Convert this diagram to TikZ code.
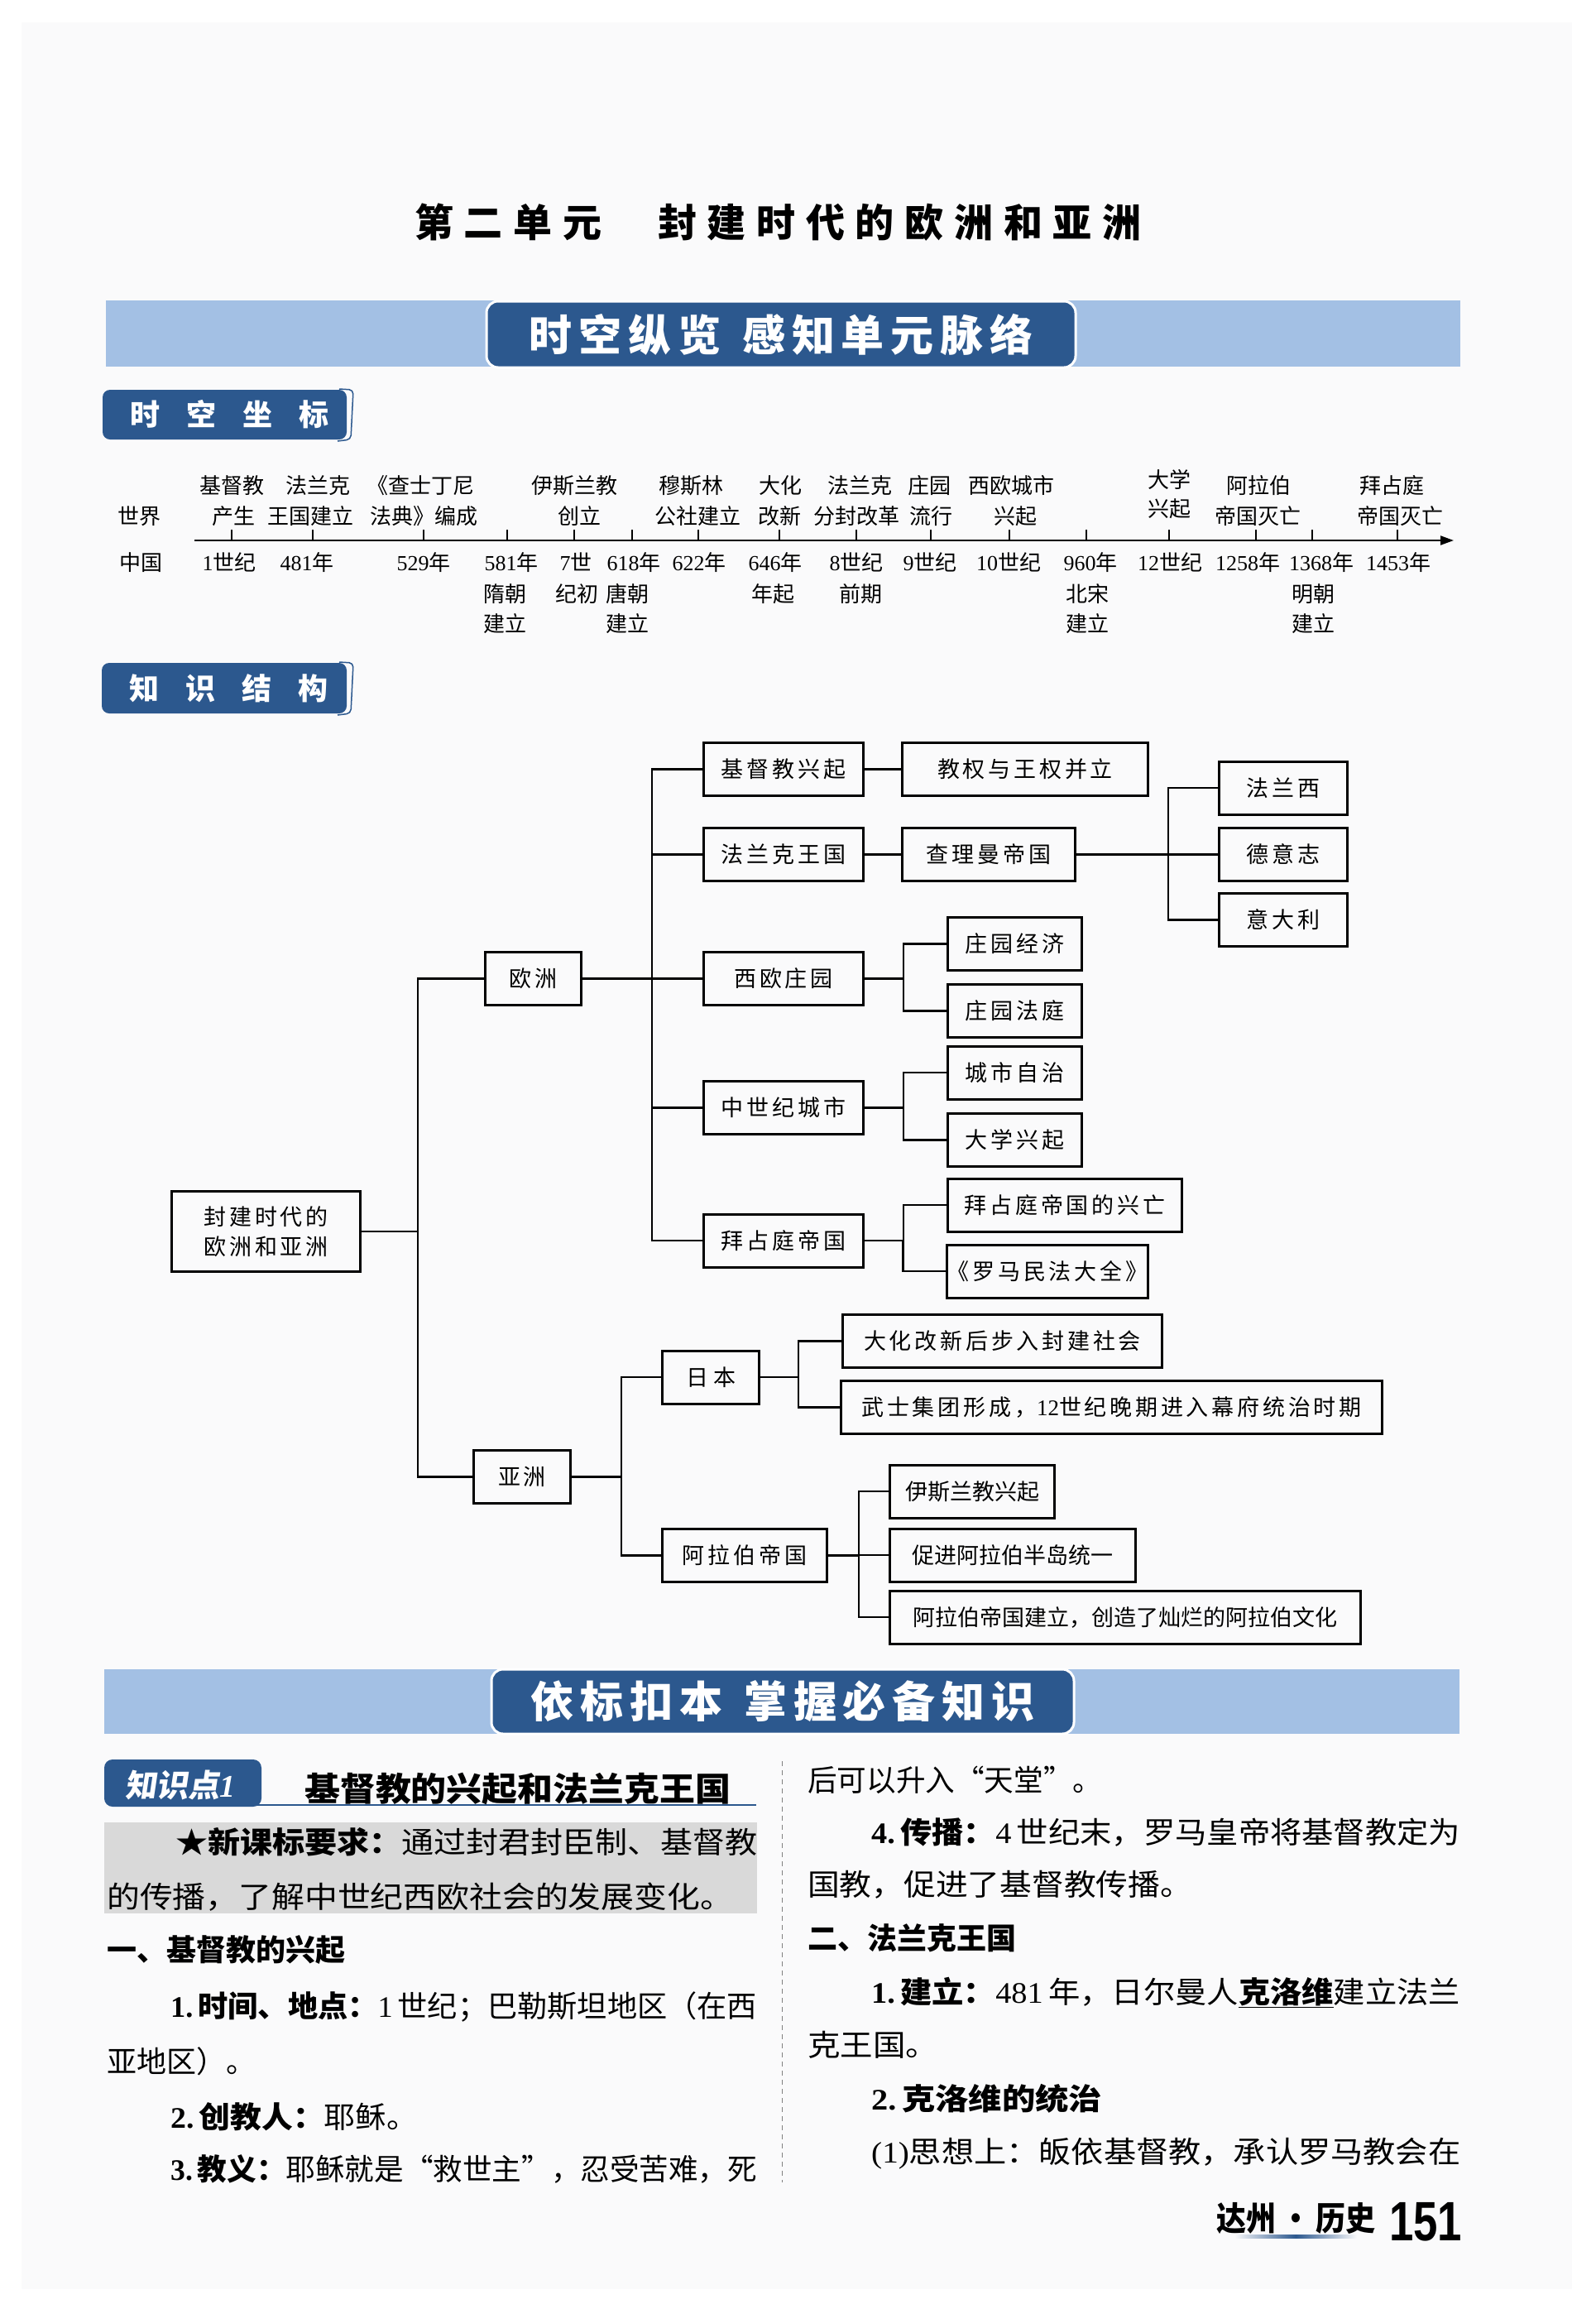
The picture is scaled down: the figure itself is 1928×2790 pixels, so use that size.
\documentclass[tikz,border=0pt]{standalone}
\usepackage{fontspec}
\usepackage{graphicx}
\usetikzlibrary{arrows.meta,calc}
\setmainfont{Liberation Serif}
\newfontfamily\hei{Noto Sans CJK SC}
\newfontfamily\tms{Liberation Serif}
\newfontfamily\hvb{Liberation Sans}
\definecolor{bdark}{RGB}{44,88,142}
\definecolor{blight}{RGB}{163,192,228}
\definecolor{gbox}{RGB}{217,217,217}
\definecolor{pagebg}{RGB}{250,250,251}
\newcommand{\tn}[1]{{\tms #1}}
\newcommand{\tnb}[1]{{\tms\bfseries #1}}
\newcommand{\fitw}[2]{\resizebox{#1}{\height}{#2}}
\newcommand{\ttlfont}{\hei\bfseries\fontsize{47}{52}\selectfont\addfontfeature{LetterSpace=27}}
\newcommand{\bnfont}{\hei\bfseries\fontsize{52}{58}\selectfont\addfontfeature{LetterSpace=15}}
\newcommand{\tabfont}{\hei\bfseries\fontsize{36}{40}\selectfont}
\newcommand{\tlfont}{\hei\fontsize{26}{30}\selectfont}
\newcommand{\bxfont}{\hei\fontsize{27}{36}\selectfont\addfontfeature{LetterSpace=14}}
\newcommand{\bxafont}{\hei\fontsize{27}{36}\selectfont}
\newcommand{\bdfont}{\hei\fontsize{36}{40}\selectfont}
\newcommand{\kpfont}{\hei\bfseries\fontsize{38}{42}\selectfont\addfontfeature{FakeSlant=0.15}}
\begin{document}
\begin{tikzpicture}[x=1pt,y=-1pt,
  bx/.style={draw, line width=3pt, inner sep=0pt, minimum height=64pt, font=\bxfont},
  bxa/.style={bx, font=\bxafont},
  ln/.style={line width=2.6pt},
  tl/.style={inner sep=0pt, font=\tlfont, text height=21.6pt, text depth=1.8pt},
  bd/.style={inner sep=0pt, anchor=base west, font=\bdfont},
  bnr/.style={fill=bdark, draw=white, line width=3pt, rounded corners=14pt, minimum width=712pt, minimum height=80pt, text=white, font=\bnfont, inner sep=0pt},
  tabtxt/.style={inner sep=0pt, text=white, font=\tabfont},
]
\useasboundingbox (0,0) rectangle (1928,2790);
\fill[white] (0,0) rectangle (1928,2790);
\fill[pagebg] (26,27) rectangle (1900,2766);

% title
\node[inner sep=0pt, anchor=base west, font=\ttlfont] (title) at (501,286) {第二单元\hspace{68pt}封建时代的欧洲和亚洲};

% banner 1
\fill[blight] (128,363) rectangle (1765,443);
\node[bnr] (bn1) at (944,404) {时空纵览\hspace{26pt}感知单元脉络};

% tab 1
\fill[bdark, rounded corners=9pt] (124,471) rectangle (419,531);
\draw[bdark, line width=1.5pt, rounded corners=5pt] (410,470) -- (427,471) -- (424,531) -- (408,533);
\node[tabtxt] (tab1) at (277.5,501) {时\hspace{32pt}空\hspace{32pt}坐\hspace{32pt}标};

% timeline
\coordinate (axL) at (235,653);
\coordinate (axR) at (1757,653);
\draw[line width=2pt, -{Triangle[length=16pt,width=11pt]}] (axL) -- (axR);
\foreach \x in {280,378,512,613,694,764,844,942,1035,1125,1220,1313,1413,1518,1586,1689}
  \draw[line width=1.6pt] (\x,653) -- (\x,640);
\node[tl] (shijie) at (168,624) {世界};
\node[tl] (zhongguo) at (170,680) {中国};
\foreach \x/\y/\t [count=\i] in {
280/587/基督教, 282/624/产生,
384/587/法兰克, 375/624/王国建立,
508/587/《查士丁尼, 512/624/法典》编成,
694/587/伊斯兰教, 700/624/创立,
835/587/穆斯林, 843/624/公社建立,
943/587/大化, 942/624/改新,
1039/587/法兰克, 1035/624/分封改革,
1123/587/庄园, 1125/624/流行,
1222/587/西欧城市, 1227/624/兴起,
1413/580/大学, 1413/615/兴起,
1521/587/阿拉伯, 1520/624/帝国灭亡,
1682/587/拜占庭, 1692/624/帝国灭亡}
  \node[tl] (w\i) at (\x,\y) {\t};
\foreach \x/\y/\t [count=\i] in {
277/680/\tn{1}世纪, 371/680/\tn{481}年, 512/680/\tn{529}年,
618/680/\tn{581}年, 610/718/隋朝, 610/754/建立,
696/680/\tn{7}世, 697/718/纪初,
766/680/\tn{618}年, 758/718/唐朝, 758/754/建立,
845/680/\tn{622}年, 937/680/\tn{646}年, 934/718/年起,
1035/680/\tn{8}世纪, 1040/718/前期,
1124/680/\tn{9}世纪, 1219/680/\tn{10}世纪,
1318/680/\tn{960}年, 1314/718/北宋, 1314/754/建立,
1414/680/\tn{12}世纪, 1508/680/\tn{1258}年,
1597/680/\tn{1368}年, 1587/718/明朝, 1587/754/建立,
1690/680/\tn{1453}年}
  \node[tl] (c\i) at (\x,\y) {\t};

% tab 2
\fill[bdark, rounded corners=9pt] (123,801) rectangle (419,862);
\draw[bdark, line width=1.5pt, rounded corners=5pt] (410,800) -- (427,801) -- (424,862) -- (408,864);
\node[tabtxt] (tab2) at (276.5,831.5) {知\hspace{32pt}识\hspace{32pt}结\hspace{32pt}构};

% tree nodes
\node[bx, minimum width=228pt, minimum height=97pt, align=center] (root) at (321.5,1488) {封建时代的\\欧洲和亚洲};
\node[bx, minimum width=116pt] (ouzhou) at (644.5,1182.5) {欧洲};
\node[bx, minimum width=117pt] (yazhou) at (631,1784.5) {亚洲};
\node[bx, minimum width=193pt] (jdj) at (947,929.5) {基督教兴起};
\node[bx, minimum width=193pt] (flk) at (947,1032.5) {法兰克王国};
\node[bx, minimum width=193pt] (xozy) at (947,1182.5) {西欧庄园};
\node[bx, minimum width=193pt] (zsjcs) at (947,1338.5) {中世纪城市};
\node[bx, minimum width=193pt] (bzt) at (947,1499) {拜占庭帝国};
\node[bx, minimum width=297pt] (jq) at (1239,929.5) {教权与王权并立};
\node[bx, minimum width=209pt] (clm) at (1195,1032.5) {查理曼帝国};
\node[bx, minimum width=155pt] (flx) at (1551,952) {法兰西};
\node[bx, minimum width=155pt] (dyz) at (1551,1032.5) {德意志};
\node[bx, minimum width=155pt] (ydl) at (1551,1111.5) {意大利};
\node[bx, minimum width=162pt] (zyjj) at (1226.5,1140.5) {庄园经济};
\node[bx, minimum width=162pt] (zyft) at (1226.5,1221.5) {庄园法庭};
\node[bx, minimum width=162pt] (cszz) at (1226.5,1296) {城市自治};
\node[bx, minimum width=162pt] (dxxq) at (1226.5,1377.5) {大学兴起};
\node[bx, minimum width=283pt] (bztxw) at (1287,1456) {拜占庭帝国的兴亡};
\node[bx, minimum width=241pt] (lmmf) at (1266,1536) {《罗马民法大全》};
\node[bx, minimum width=117pt] (rb) at (859,1664) {日\hspace{6pt}本};
\node[bx, minimum width=199pt] (alb) at (900,1879.5) {阿拉伯帝国};
\node[bx, minimum width=386pt] (dh) at (1211.5,1620.5) {大化改新后步入封建社会};
\node[bx, minimum width=654pt] (ws) at (1343.5,1700.5) {武士集团形成，\tn{12}世纪晚期进入幕府统治时期};
\node[bxa, minimum width=199pt] (ysl) at (1175,1802) {伊斯兰教兴起};
\node[bxa, minimum width=297pt] (cj) at (1224,1879) {促进阿拉伯半岛统一};
\node[bxa, minimum width=569pt] (albjl) at (1360,1954) {阿拉伯帝国建立，创造了灿烂的阿拉伯文化};

% connectors
\draw[ln] (ouzhou.west) -- ++(-80,0) |- (root.east);
\draw[ln] (yazhou.west) -- ++(-66,0) |- (root.east);
\foreach \c in {jdj,flk,xozy,zsjcs,bzt} \draw[ln] (\c.west) -- ++(-61,0) |- (ouzhou.east);
\draw[ln] (jdj.east) -- (jq.west);
\draw[ln] (flk.east) -- (clm.west);
\foreach \c in {flx,dyz,ydl} \draw[ln] (\c.west) -- ++(-60,0) |- (clm.east);
\foreach \c in {zyjj,zyft} \draw[ln] (\c.west) -- ++(-52,0) |- (xozy.east);
\foreach \c in {cszz,dxxq} \draw[ln] (\c.west) -- ++(-52,0) |- (zsjcs.east);
\foreach \c in {bztxw,lmmf} \draw[ln] (\c.west) -- ++(-52,0) |- (bzt.east);
\foreach \c in {rb,alb} \draw[ln] (\c.west) -- ++(-48,0) |- (yazhou.east);
\draw[ln] (dh.west) -- ++(-52,0) |- (rb.east);
\draw[ln] (ws.west) -- ++(-50,0) |- (rb.east);
\foreach \c in {ysl,cj,albjl} \draw[ln] (\c.west) -- ++(-36,0) |- (alb.east);

% banner 2
\fill[blight] (126,2017) rectangle (1764,2095);
\node[bnr, minimum width=704pt, minimum height=78pt] (bn2) at (946,2056) {依标扣本\hspace{26pt}掌握必备知识};

% knowledge point 1
\fill[bdark, rounded corners=10pt] (126,2126) rectangle (316,2183);
\node[inner sep=0pt, text=white, font=\kpfont] (kp) at (218,2157) {知识点{\tms\itshape 1}};
\draw[bdark, line width=2.5pt] (300,2181) -- (914,2181);
\node[inner sep=0pt, anchor=base west, font=\hei\bfseries\fontsize{40}{44}\selectfont] (kt) at (368,2176) {\fitw{515pt}{基督教的兴起和法兰克王国}};

\fill[gbox] (126,2202) rectangle (915,2312);
\draw[gray, line width=1pt, dash pattern=on 6pt off 5pt] (945,2128) -- (945,2637);

% left column
\node[bd] (g1) at (212,2239) {\fitw{703pt}{{\bfseries ★新课标要求：}通过封君封臣制、基督教}};
\node[bd] (g2) at (129,2305) {\fitw{757pt}{的传播，了解中世纪西欧社会的发展变化。}};
\node[bd] (h1) at (129,2369) {{\bfseries 一、基督教的兴起}};
\node[bd] (l1) at (206,2437) {\fitw{709pt}{\tnb{1.}\,{\bfseries 时间、地点：}\tn{1}\,世纪；巴勒斯坦地区（在西}};
\node[bd] (l2) at (129,2504) {亚地区）。};
\node[bd] (l3) at (206,2571) {\fitw{299pt}{\tnb{2.}\,{\bfseries 创教人：}耶稣。}};
\node[bd] (l4) at (206,2634) {\fitw{709pt}{\tnb{3.}\,{\bfseries 教义：}耶稣就是“救世主”，忍受苦难，死}};

% right column
\node[bd] (r1) at (976,2164) {\fitw{356pt}{后可以升入“天堂”。}};
\node[bd] (r2) at (1053,2227) {\fitw{712pt}{\tnb{4.}\,{\bfseries 传播：}\tn{4}\,世纪末，罗马皇帝将基督教定为}};
\node[bd] (r3) at (976,2290) {\fitw{465pt}{国教，促进了基督教传播。}};
\node[bd] (r4) at (976,2355) {{\bfseries 二、法兰克王国}};
\node[bd] (r5) at (1053,2420) {\fitw{712pt}{\tnb{1.}\,{\bfseries 建立：}\tn{481}\,年，日尔曼人\underline{\bfseries 克洛维}建立法兰}};
\node[bd] (r6) at (976,2484) {\fitw{158pt}{克王国。}};
\node[bd] (r7) at (1053,2549) {\fitw{279pt}{\tnb{2.}\,{\bfseries 克洛维的统治}}};
\node[bd] (r8) at (1053,2613) {\fitw{712pt}{\tn{(1)}思想上：皈依基督教，承认罗马教会在}};

% footer
\node[inner sep=0pt, anchor=base west, font=\hei\bfseries\fontsize{40}{44}\selectfont] (ft1) at (1470,2695) {\fitw{192pt}{达州\,·\,历史}};
\node[inner sep=0pt, anchor=base west, font=\hvb\bfseries\fontsize{67}{70}\selectfont] (ft2) at (1679,2707) {\fitw{88pt}{151}};
\shade[left color=pagebg, right color=pagebg, middle color=bdark] (1492,2700) rectangle (1640,2704);
\end{tikzpicture}
\end{document}
